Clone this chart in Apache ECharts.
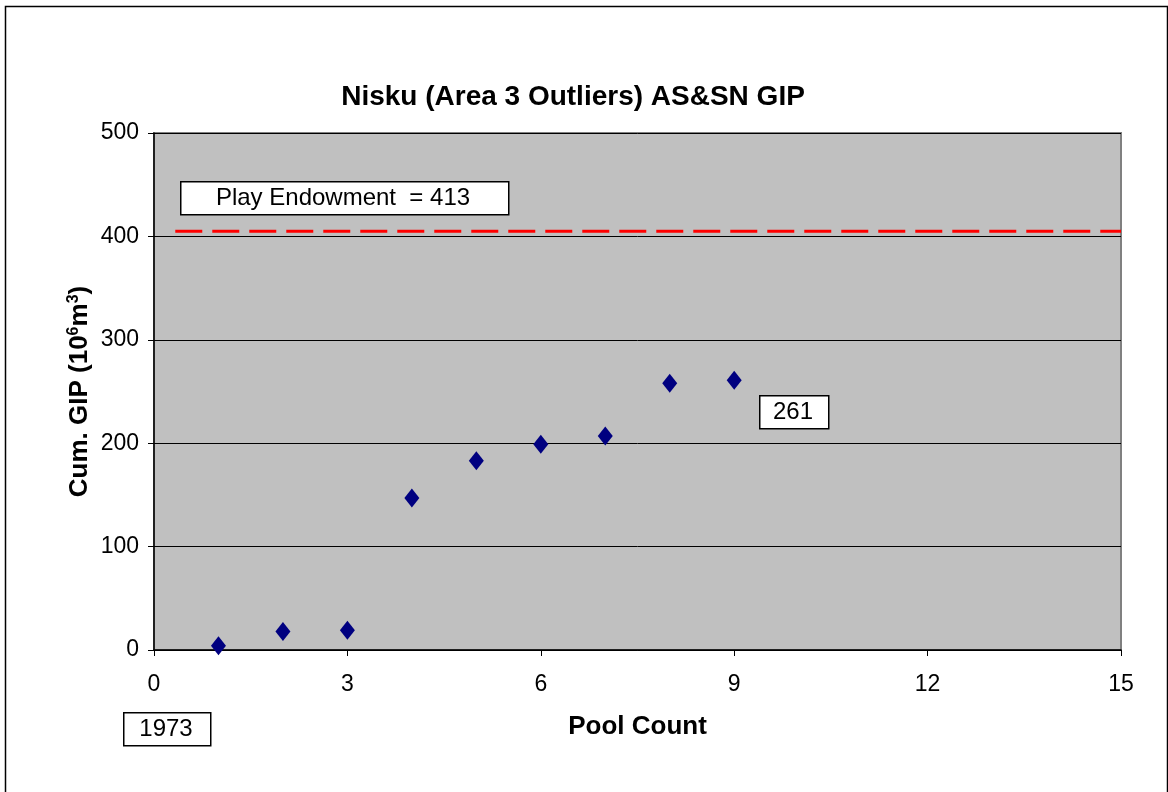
<!DOCTYPE html>
<html>
<head>
<meta charset="utf-8">
<script src="https://cdn.jsdelivr.net/npm/echarts@6/dist/echarts.min.js"></script>
<style>
  html, body { margin: 0; padding: 0; background: #fff; }
  #chart-container { width: 1168px; height: 792px; }
</style>
</head>
<body>
<div id="chart-container"></div>
<script>
var dom = document.getElementById('chart-container');
var myChart = echarts.init(dom, null, { renderer: 'canvas' });

// pool count vs cumulative GIP (10^6 m3)
var poolCount = [1, 2, 3, 4, 5, 6, 7, 8, 9];
var cumGip = [4, 18, 19, 147, 183, 199, 207, 258, 261];
// play endowment line (drawn at ~405 in the original)
var endowX = [0.33, 15];
var endowY = [405, 405];
var xTicks = [0, 3, 6, 9, 12, 15];
var yTicks = [0, 100, 200, 300, 400, 500];

var font = 'Liberation Sans, Arial, sans-serif';

var option = {
  animation: false,
  backgroundColor: '#fff',
  textStyle: { fontFamily: font },
  title: {
    text: 'Nisku (Area 3 Outliers) AS&SN GIP',
    left: 568,
    top: 78,
    textAlign: 'center',
    textStyle: { fontSize: 28, fontWeight: 'bold', color: '#000', fontFamily: font }
  },
  grid: { left: 154, right: 47, top: 133, bottom: 142, show: true, backgroundColor: '#c0c0c0', borderColor: '#808080', borderWidth: 2 },
  xAxis: {
    type: 'value',
    min: xTicks[0],
    max: xTicks[xTicks.length - 1],
    interval: 3,
    name: 'Pool Count',
    nameLocation: 'middle',
    nameGap: 64,
    nameTextStyle: { fontSize: 26, fontWeight: 'bold', color: '#000', fontFamily: font },
    axisLine: { show: true, onZero: false, lineStyle: { color: '#000', width: 1.5 } },
    axisTick: { show: true, length: 6, inside: false, lineStyle: { color: '#000' } },
    axisLabel: { fontSize: 23, color: '#000', margin: 23, fontFamily: font },
    splitLine: { show: false }
  },
  yAxis: {
    type: 'value',
    min: yTicks[0],
    max: yTicks[yTicks.length - 1],
    interval: 100,
    name: 'Cum. GIP (10{sup|6}m{sup|3})',
    nameLocation: 'middle',
    nameGap: 60,
    nameMoveOverlap: false,
    nameRotate: 90,
    nameTextStyle: {
      fontSize: 26, fontWeight: 'bold', color: '#000', fontFamily: font,
      rich: {
        sup: { fontSize: 16, fontWeight: 'bold', color: '#000', fontFamily: font, verticalAlign: 'top', padding: [0, 0, 12, 0] }
      }
    },
    axisLine: { show: true, lineStyle: { color: '#000', width: 1.5 } },
    axisTick: { show: true, length: 6, lineStyle: { color: '#000' } },
    axisLabel: { fontSize: 23, color: '#000', margin: 15, fontFamily: font },
    splitLine: { show: true, lineStyle: { color: '#000', width: 1 } }
  },
  series: [
    {
      type: 'line',
      data: endowX.map(function (x, i) { return [x, endowY[i]]; }),
      symbol: 'none',
      lineStyle: { color: '#ff0000', width: 3, type: [27, 10] },
      z: 3
    },
    {
      type: 'scatter',
      data: poolCount.map(function (x, i) { return [x, cumGip[i]]; }),
      symbol: 'diamond',
      symbolSize: [15, 19],
      itemStyle: { color: '#000080', opacity: 1 },
      z: 4
    }
  ],
  graphic: [
    { type: 'rect', left: 3, top: 4, shape: { width: 1162, height: 800 }, style: { fill: 'none', stroke: '#000', lineWidth: 1.5 }, z: 100 },
    { type: 'rect', left: 180, top: 181, shape: { width: 328, height: 33 }, style: { fill: '#fff', stroke: '#000', lineWidth: 1.5 }, z: 10 },
    { type: 'text', x: 343, y: 198, style: { text: 'Play Endowment  = 413', fontSize: 24, fill: '#000', align: 'center', verticalAlign: 'middle', fontFamily: font }, z: 11 },
    { type: 'rect', left: 759, top: 395, shape: { width: 69, height: 33 }, style: { fill: '#fff', stroke: '#000', lineWidth: 1.5 }, z: 10 },
    { type: 'text', x: 793, y: 412, style: { text: '261', fontSize: 24, fill: '#000', align: 'center', verticalAlign: 'middle', fontFamily: font }, z: 11 },
    { type: 'rect', left: 123, top: 712, shape: { width: 87, height: 33 }, style: { fill: '#fff', stroke: '#000', lineWidth: 1.5 }, z: 10 },
    { type: 'text', x: 166, y: 729, style: { text: '1973', fontSize: 24, fill: '#000', align: 'center', verticalAlign: 'middle', fontFamily: font }, z: 11 }
  ]
};

myChart.setOption(option);
window.addEventListener('resize', myChart.resize);
</script>
</body>
</html>
